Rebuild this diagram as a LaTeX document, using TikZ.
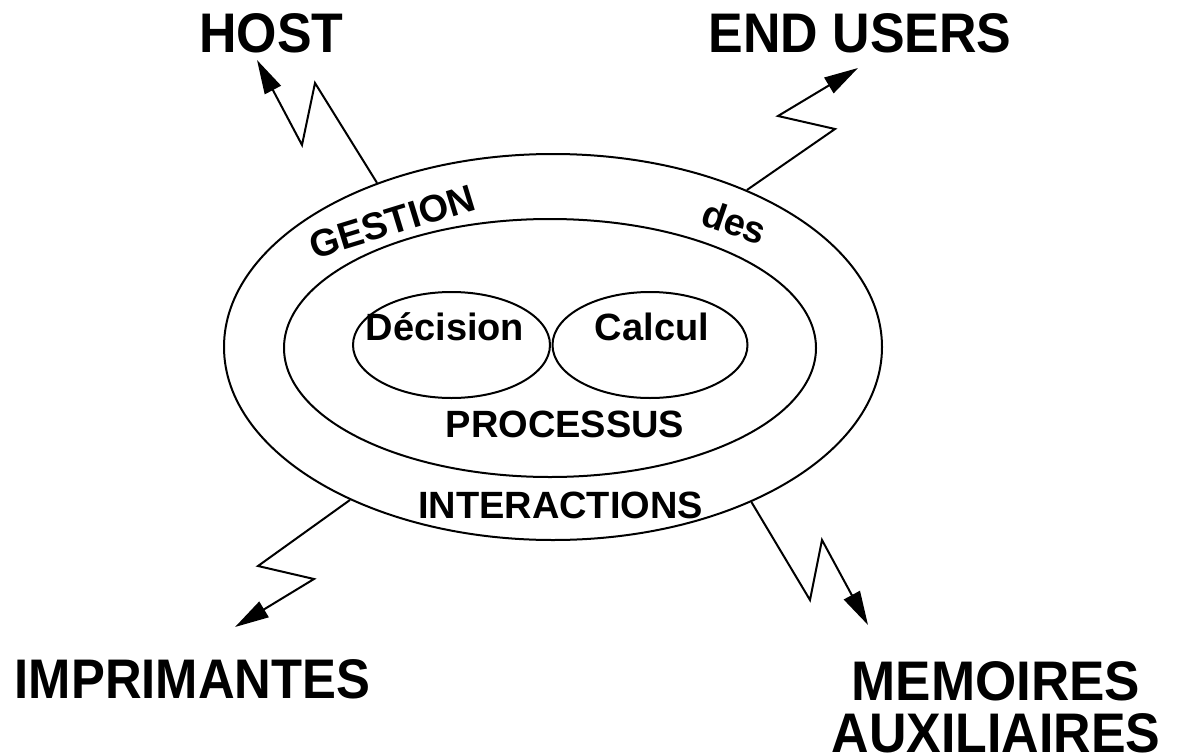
\documentclass[tikz,border=0pt]{standalone}
\usepackage{fontspec}
\usepackage{graphicx}
\setmainfont{Liberation Sans}
\usetikzlibrary{shapes.geometric,arrows.meta}
\tikzset{
  ring/.style={draw, ellipse, inner sep=0pt, line width=1pt},
  big/.style={font=\fontsize{27.9}{26}\selectfont\bfseries, anchor=base, inner sep=0pt},
  mid/.style={font=\fontsize{19}{21}\selectfont\bfseries, anchor=base, inner sep=0pt},
  zig/.style={line width=1pt, line join=miter, -{Triangle[length=17pt,width=9pt]}},
}
\begin{document}
\begin{tikzpicture}[x=0.5pt,y=-0.5pt]
\useasboundingbox (0,0) rectangle (1194,755);
% ellipses
\node[ring, minimum width=329pt, minimum height=193pt] (outer) at (553,347) {};
\node[ring, minimum width=266pt, minimum height=129pt] (inner) at (550,348) {};
\node[ring, minimum width=98.5pt, minimum height=53pt] (dec) at (451.5,345) {};
\node[ring, minimum width=97.5pt, minimum height=53pt] (calc) at (650,345) {};
% inner texts
\node[mid] (tdec) at (445,340) {Décision};
\node[mid] (tcalc) at (652,340) {Calcul};
\node[mid] (tproc) at (565,437) {PROCESSUS};
\node[mid] (tinter) at (560.5,518) {INTERACTIONS};
\node[mid, rotate=17] (tgest) at (396,234) {GESTION};
\node[mid, rotate=-19] (tdes) at (730,235) {des};
% outer labels
\node[big] (host) at (271.5,53) {\scalebox{0.93}[1]{HOST}};
\node[big] (users) at (860,52) {\scalebox{0.93}[1]{END USERS}};
\node[big] (impr) at (192.5,698) {\scalebox{0.91}[1]{IMPRIMANTES}};
\node[big, align=center] (mem) at (996,752) {\scalebox{0.95}[1]{MEMOIRES}\\\scalebox{0.93}[1]{AUXILIAIRES}};
% zigzag arrows
\coordinate (h1) at (315,83); \coordinate (h2) at (302,145); \coordinate (ht) at (257,60);
\coordinate (u1) at (835,129); \coordinate (u2) at (778,116); \coordinate (ut) at (858,68);
\coordinate (i1) at (258,566); \coordinate (i2) at (314,579); \coordinate (it) at (235,627);
\coordinate (m1) at (810,600); \coordinate (m2) at (822,540); \coordinate (mt) at (868,625);
\draw[zig] (outer.137.8) -- (h1) -- (h2) -- (ht);
\draw[zig] (outer.39.4) -- (u1) -- (u2) -- (ut);
\draw[zig] (outer.217.7) -- (i1) -- (i2) -- (it);
\draw[zig] (outer.-38.1) -- (m1) -- (m2) -- (mt);
\end{tikzpicture}
\end{document}
